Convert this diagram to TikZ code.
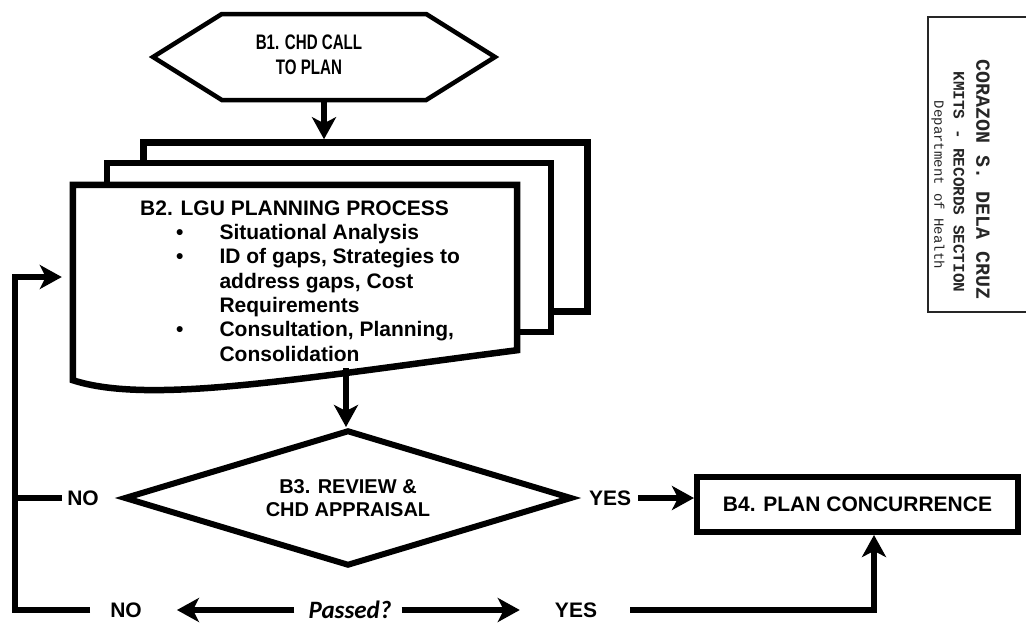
\documentclass[tikz,border=0pt]{standalone}
\usepackage{fontspec}
\setmainfont{Liberation Sans}
\newfontfamily\narrowfont{Liberation Sans}[FakeStretch=0.72]
\newfontfamily\passedfont{Carlito}
\newfontfamily\stampfont{Liberation Mono}
\usetikzlibrary{arrows.meta,positioning,shapes.geometric,shapes.symbols}
\tikzset{
    %Define standard arrow tip
    >={Stealth[length=22pt,width=24pt,inset=6pt]},
    %Define style for boxes
    callbox/.style={
           signal, signal to=west and east,
           signal pointer angle=64,
           draw=black, line width=4.5pt,
           minimum width=342pt,
           minimum height=86pt,
           inner sep=0pt,
           font=\narrowfont\bfseries\fontsize{21}{25}\selectfont},
    page/.style={
           rectangle,
           draw=black, line width=6.5pt,
           fill=white,
           minimum width=444pt,
           minimum height=169pt},
    decision/.style={
           diamond, aspect=3.3,
           draw=black, line width=6pt,
           minimum width=448pt,
           minimum height=136pt,
           inner sep=0pt,
           align=center,
           font=\bfseries\fontsize{20}{23}\selectfont},
    process/.style={
           rectangle,
           draw=black, line width=6pt,
           minimum width=321pt,
           minimum height=55pt,
           font=\bfseries\fontsize{21}{21}\selectfont},
    answer/.style={
           inner sep=2pt,
           font=\bfseries\fontsize{21}{21}\selectfont},
    stamptext/.style={
           rotate=-90,
           inner sep=0pt,
           text=black!85},
    % Define arrow style
    pil/.style={
           ->,
           line width=5.5pt},
    link/.style={
           line width=5.5pt}
}

\begin{document}
\begin{tikzpicture}[x=1pt,y=-1pt,line join=miter]
\useasboundingbox (0,0) rectangle (1026,624);
 %nodes
\node[callbox] (b1) at (324,57) {\begin{tabular}{@{}c@{\hspace{30pt}}}B1. CHD CALL\\TO PLAN\end{tabular}};
\node[page] (p3) at (365.5,227) {};
\node[page] (p2) at (329,247.5) {};
\node[rectangle, minimum width=444pt, minimum height=165pt] (b2) at (295,267.5) {};
\draw[line width=6.5pt, fill=white] (b2.south east) -- (b2.north east) -- (b2.north west)
   -- ([yshift=-30pt]b2.south west) .. controls +(77,25) and +(-217,28) .. (b2.south east) -- cycle;
\node[anchor=north west, inner sep=0pt, font=\bfseries\fontsize{21}{24.3}\selectfont] (b2text) at (140,198) {%
  \begin{tabular}{@{\hspace{36pt}}l@{\hspace{36pt}}l@{}}
  \multicolumn{2}{@{}l}{B2. LGU PLANNING PROCESS}\\
  \textbullet & Situational Analysis\\
  \textbullet & ID of gaps, Strategies to\\
              & address gaps, Cost\\
              & Requirements\\
  \textbullet & Consultation, Planning,\\
              & Consolidation
  \end{tabular}};
\coordinate (b2out) at (346,368);
\node[decision] (b3) at (348,498) {B3. REVIEW \&\\CHD APPRAISAL};
\node[process] (b4) at (857.5,504.5) {B4. PLAN CONCURRENCE};
\node[answer, left=20pt of b3.west] (no1) {NO};
\node[answer, right=12pt of b3.east] (yes1) {YES};
\node[inner sep=2pt, font=\passedfont\bfseries\itshape\fontsize{25}{25}\selectfont] (passed) at (350,610) {Passed?};
\node[answer] (no2) at (126,610) {NO};
\node[answer] (yes2) at (576,610) {YES};
\coordinate (loop) at (15,610);
 %stamp
\draw[line width=1.5pt, black!85] (928,17) rectangle (1040,312);
\node[stamptext, font=\stampfont\bfseries\fontsize{20}{20}\selectfont] (stamp1) at (983,180) {CORAZON S. DELA CRUZ};
\node[stamptext, font=\stampfont\bfseries\fontsize{16}{16}\selectfont] (stamp2) at (959,182) {KMITS - RECORDS SECTION};
\node[stamptext, font=\stampfont\fontsize{14}{14}\selectfont] (stamp3) at (938,185) {Department of Health};
 %connectors
\draw[pil] (b1.south) -- (b1.south |- p3.north);
\draw[pil] (b2out) -- (b2out |- b3.north);
\draw[pil, shorten <=5pt] (yes1.east) -- (b4.west |- yes1.east);
\draw[pil, shorten <=12pt, shorten >=33pt] (passed.west) -- (no2.east);
\draw[pil, shorten <=8pt, shorten >=33pt] (passed.east) -- (yes2.west);
\draw[pil, shorten <=31pt] (yes2.east) -| ([xshift=16.5pt]b4.south);
\draw[pil, shorten <=18pt, shorten >=11pt] (no2.west) -- (loop) |- ([yshift=-9.5pt]b2.west);
\draw[link, shorten <=3pt] (no1.west) -- (no1.west -| loop);
\end{tikzpicture}
\end{document}
